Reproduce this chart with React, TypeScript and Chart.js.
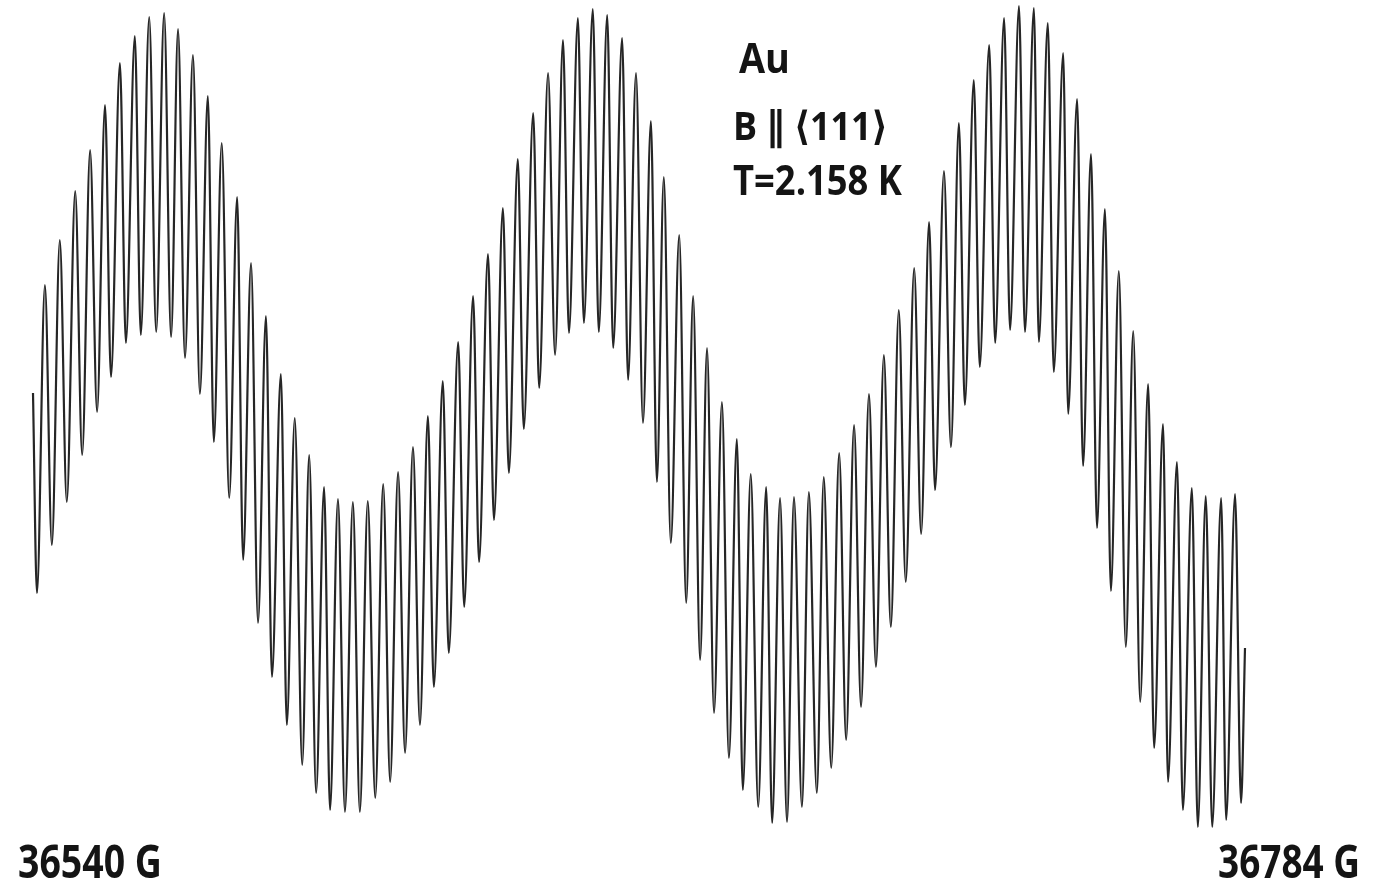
import React, { useEffect, useRef } from "react";
import { Chart, registerables } from "chart.js";

Chart.register(...registerables);

// Magnetic field range (Gauss)
const fieldStartG = 36540;
const fieldEndG = 36784;
const fieldLabels = ["36540 G", "36784 G"];
const annotationLines = ["Au", "B \u2225 \u27E8111\u27E9", "T=2.158 K"];

// Oscillation maxima: field offset from start (G) and signal (arb. units)
const peakOffsetG = [
  2.4, 5.4, 8.5, 11.5, 14.5, 17.5, 20.5, 23.4, 26.4, 29.2,
  32.2, 35.2, 38.0, 41.1, 43.9, 46.9, 49.9, 52.7, 55.6, 58.6,
  61.4, 64.4, 67.4, 70.5, 73.5, 76.5, 79.5, 82.5, 85.6, 88.6,
  91.6, 94.6, 97.6, 100.7, 103.7, 106.7, 109.7, 112.7, 115.6, 118.6,
  121.4, 124.4, 127.0, 130.1, 132.9, 135.7, 138.7, 141.7, 144.5, 147.6,
  150.4, 153.2, 156.2, 159.2, 162.3, 165.3, 168.3, 171.3, 174.3, 177.4,
  180.4, 183.4, 186.4, 189.4, 192.5, 195.5, 198.5, 201.5, 204.3, 207.4,
  210.2, 213.0, 215.8, 218.6, 221.5, 224.5, 227.5, 230.3, 233.3, 236.1,
  239.2, 242.0,
];
const peakSignal = [
  55.0, 59.5, 64.4, 68.5, 73.0, 77.2, 79.9, 81.8, 82.2, 80.6,
  78.0, 73.9, 69.2, 63.8, 57.2, 51.9, 46.1, 41.7, 38.0, 34.8,
  33.6, 33.3, 33.4, 35.1, 36.3, 38.8, 41.9, 45.4, 49.3, 53.9,
  58.1, 62.7, 67.6, 72.2, 76.2, 79.5, 81.7, 82.6, 82.0, 79.7,
  76.2, 71.4, 65.8, 60.0, 53.9, 48.7, 43.3, 39.6, 36.1, 34.8,
  33.7, 33.8, 34.3, 35.8, 38.2, 41.0, 44.1, 48.0, 52.5, 56.7,
  61.3, 66.4, 71.2, 75.5, 79.0, 81.7, 82.9, 82.7, 81.2, 78.2,
  73.6, 68.1, 62.6, 56.4, 50.4, 45.1, 41.1, 37.3, 34.7, 33.9,
  33.7, 34.1,
];

// Oscillation minima
const troughOffsetG = [
  0.8, 3.8, 6.8, 9.9, 12.9, 15.7, 18.7, 21.7, 24.8, 27.8,
  30.6, 33.6, 36.4, 39.5, 42.3, 45.3, 48.1, 51.1, 54.2, 57.0,
  59.8, 62.8, 65.8, 68.9, 71.9, 74.9, 77.9, 80.7, 83.7, 86.8,
  89.8, 92.8, 95.8, 98.8, 101.9, 105.1, 107.9, 110.9, 113.9, 116.8,
  119.8, 122.8, 125.6, 128.4, 131.5, 134.3, 137.1, 140.1, 142.9, 146.0,
  148.8, 151.8, 154.8, 157.8, 160.7, 163.7, 166.7, 169.7, 172.7, 175.7,
  178.8, 181.6, 184.8, 187.6, 190.6, 193.7, 196.7, 199.7, 202.5, 205.5,
  208.4, 211.4, 214.2, 217.0, 220.0, 222.9, 225.7, 228.5, 231.5, 234.5,
  237.4, 240.2, 243.2,
];
const troughSignal = [
  24.2, 29.0, 33.3, 38.0, 42.3, 45.8, 49.2, 50.0, 50.3, 49.8,
  47.7, 44.1, 39.3, 33.7, 27.5, 21.2, 15.8, 11.0, 7.0, 4.2,
  2.5, 2.3, 2.3, 3.7, 5.3, 8.2, 11.0, 14.8, 18.2, 22.8,
  27.3, 31.5, 36.2, 40.6, 44.7, 48.0, 50.2, 51.2, 50.3, 48.7,
  45.5, 41.2, 35.3, 29.2, 23.2, 17.5, 12.2, 7.7, 4.5, 2.8,
  1.2, 1.3, 2.8, 4.2, 6.7, 9.5, 12.8, 16.8, 20.8, 25.3,
  30.1, 34.5, 38.8, 43.0, 46.8, 49.2, 50.5, 50.3, 49.3, 46.3,
  42.1, 36.9, 30.7, 24.4, 18.8, 13.3, 8.7, 5.3, 2.5, 0.8,
  0.8, 1.5, 3.2,
];

// Trace end points
const startSignal = 44.2;
const endSignal = 18.7;

function buildTrace() {
  const pts: { x: number; y: number }[] = [];
  pts.push({ x: fieldStartG, y: startSignal });
  for (let i = 0; i < troughOffsetG.length; i++) {
    pts.push({ x: fieldStartG + troughOffsetG[i], y: troughSignal[i] });
    if (i < peakOffsetG.length) {
      pts.push({ x: fieldStartG + peakOffsetG[i], y: peakSignal[i] });
    }
  }
  pts.push({ x: fieldEndG, y: endSignal });
  return pts;
}

const FONT = '"Open Sans", "DejaVu Sans", sans-serif';

const textPlugin = {
  id: "textPlugin",
  afterDraw(chart: any) {
    const ctx = chart.ctx as CanvasRenderingContext2D;
    const draw = (text: string, left: number, baseline: number, size: number, width: number) => {
      ctx.save();
      ctx.font = `bold ${size}px ${FONT}`;
      ctx.fillStyle = "#141414";
      ctx.textBaseline = "alphabetic";
      ctx.textAlign = "left";
      const w = ctx.measureText(text).width;
      ctx.translate(left, baseline);
      ctx.scale(width / w, 1);
      ctx.fillText(text, 0, 0);
      ctx.restore();
    };
    draw(annotationLines[0], 739, 73, 42, 51);
    draw(annotationLines[1], 733, 140, 40, 155);
    draw(annotationLines[2], 733, 195, 42, 169);
    draw(fieldLabels[0], 18, 878, 46, 144);
    draw(fieldLabels[1], 1218, 878, 46, 142);
  },
};

export default function App() {
  const ref = useRef<HTMLCanvasElement | null>(null);
  useEffect(() => {
    document.body.style.margin = "0";
    document.body.style.background = "#fff";
    if (!ref.current) return;
    const chart = new Chart(ref.current, {
      type: "line",
      data: {
        datasets: [
          {
            data: buildTrace(),
            borderColor: "#262626",
            borderWidth: 2.2,
            pointRadius: 0,
            cubicInterpolationMode: "monotone",
            fill: false,
            clip: false as any,
          },
        ],
      },
      options: {
        animation: false,
        responsive: true,
        maintainAspectRatio: false,
        layout: { padding: { left: 33, right: 144, top: 0, bottom: 49 } },
        plugins: { legend: { display: false }, tooltip: { enabled: false } },
        scales: {
          x: { type: "linear", min: fieldStartG, max: fieldEndG, display: false },
          y: { type: "linear", min: 0, max: 83.5, display: false },
        },
      },
      plugins: [textPlugin],
    });
    return () => chart.destroy();
  }, []);
  return (
    <div style={{ position: "absolute", left: 0, top: 0, width: 1389, height: 884, background: "#fff" }}>
      <canvas ref={ref} />
    </div>
  );
}
